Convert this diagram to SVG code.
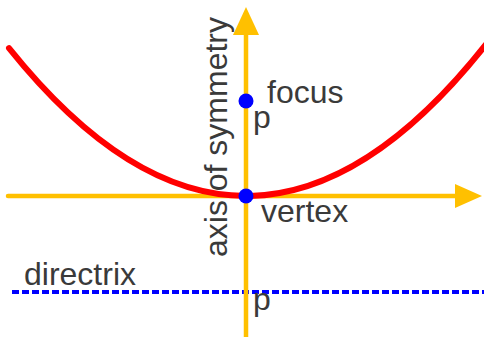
<svg xmlns="http://www.w3.org/2000/svg" width="484" height="337" viewBox="0 0 484 337">
<style>
.lbl{font-family:"Liberation Sans",Arial,sans-serif;font-size:32px;fill:#3a3a3a}
.axis{stroke:#FFC000;stroke-width:4.5;fill:none}
.head{fill:#FFC000}
.dot{fill:#0000FF}
</style>
<rect width="484" height="337" fill="#ffffff"/>
<g id="connectors">
<line id="directrix-line" x1="12" y1="292" x2="484" y2="292" stroke="#0000FF" stroke-width="4" stroke-dasharray="7 3"/>
<line class="axis" x1="246" y1="30" x2="246" y2="337"/>
<polygon class="head" points="246,7 259,35 233,35"/>
<line class="axis" x1="8" y1="196" x2="460" y2="196" stroke-linecap="round"/>
<polygon class="head" points="482,196 455,184 455,208"/>
<path id="parabola" d="M9,48.2 Q250,348.8 491,38" fill="none" stroke="#FF0000" stroke-width="6" stroke-linecap="round"/>
</g>
<g id="vertex">
<circle class="dot" cx="246" cy="196" r="7.5"/>
<text class="lbl" x="261" y="222">vertex</text>
</g>
<g id="focus">
<circle class="dot" cx="246" cy="101" r="7.5"/>
<text class="lbl" x="267" y="103">focus</text>
<text class="lbl" x="253" y="128">p</text>
</g>
<g id="directrix">
<text class="lbl" x="24" y="285">directrix</text>
<text class="lbl" x="253" y="310">p</text>
</g>
<g id="axis-label">
<text class="lbl" transform="translate(227,257) rotate(-90)">axis of symmetry</text>
</g>
</svg>
